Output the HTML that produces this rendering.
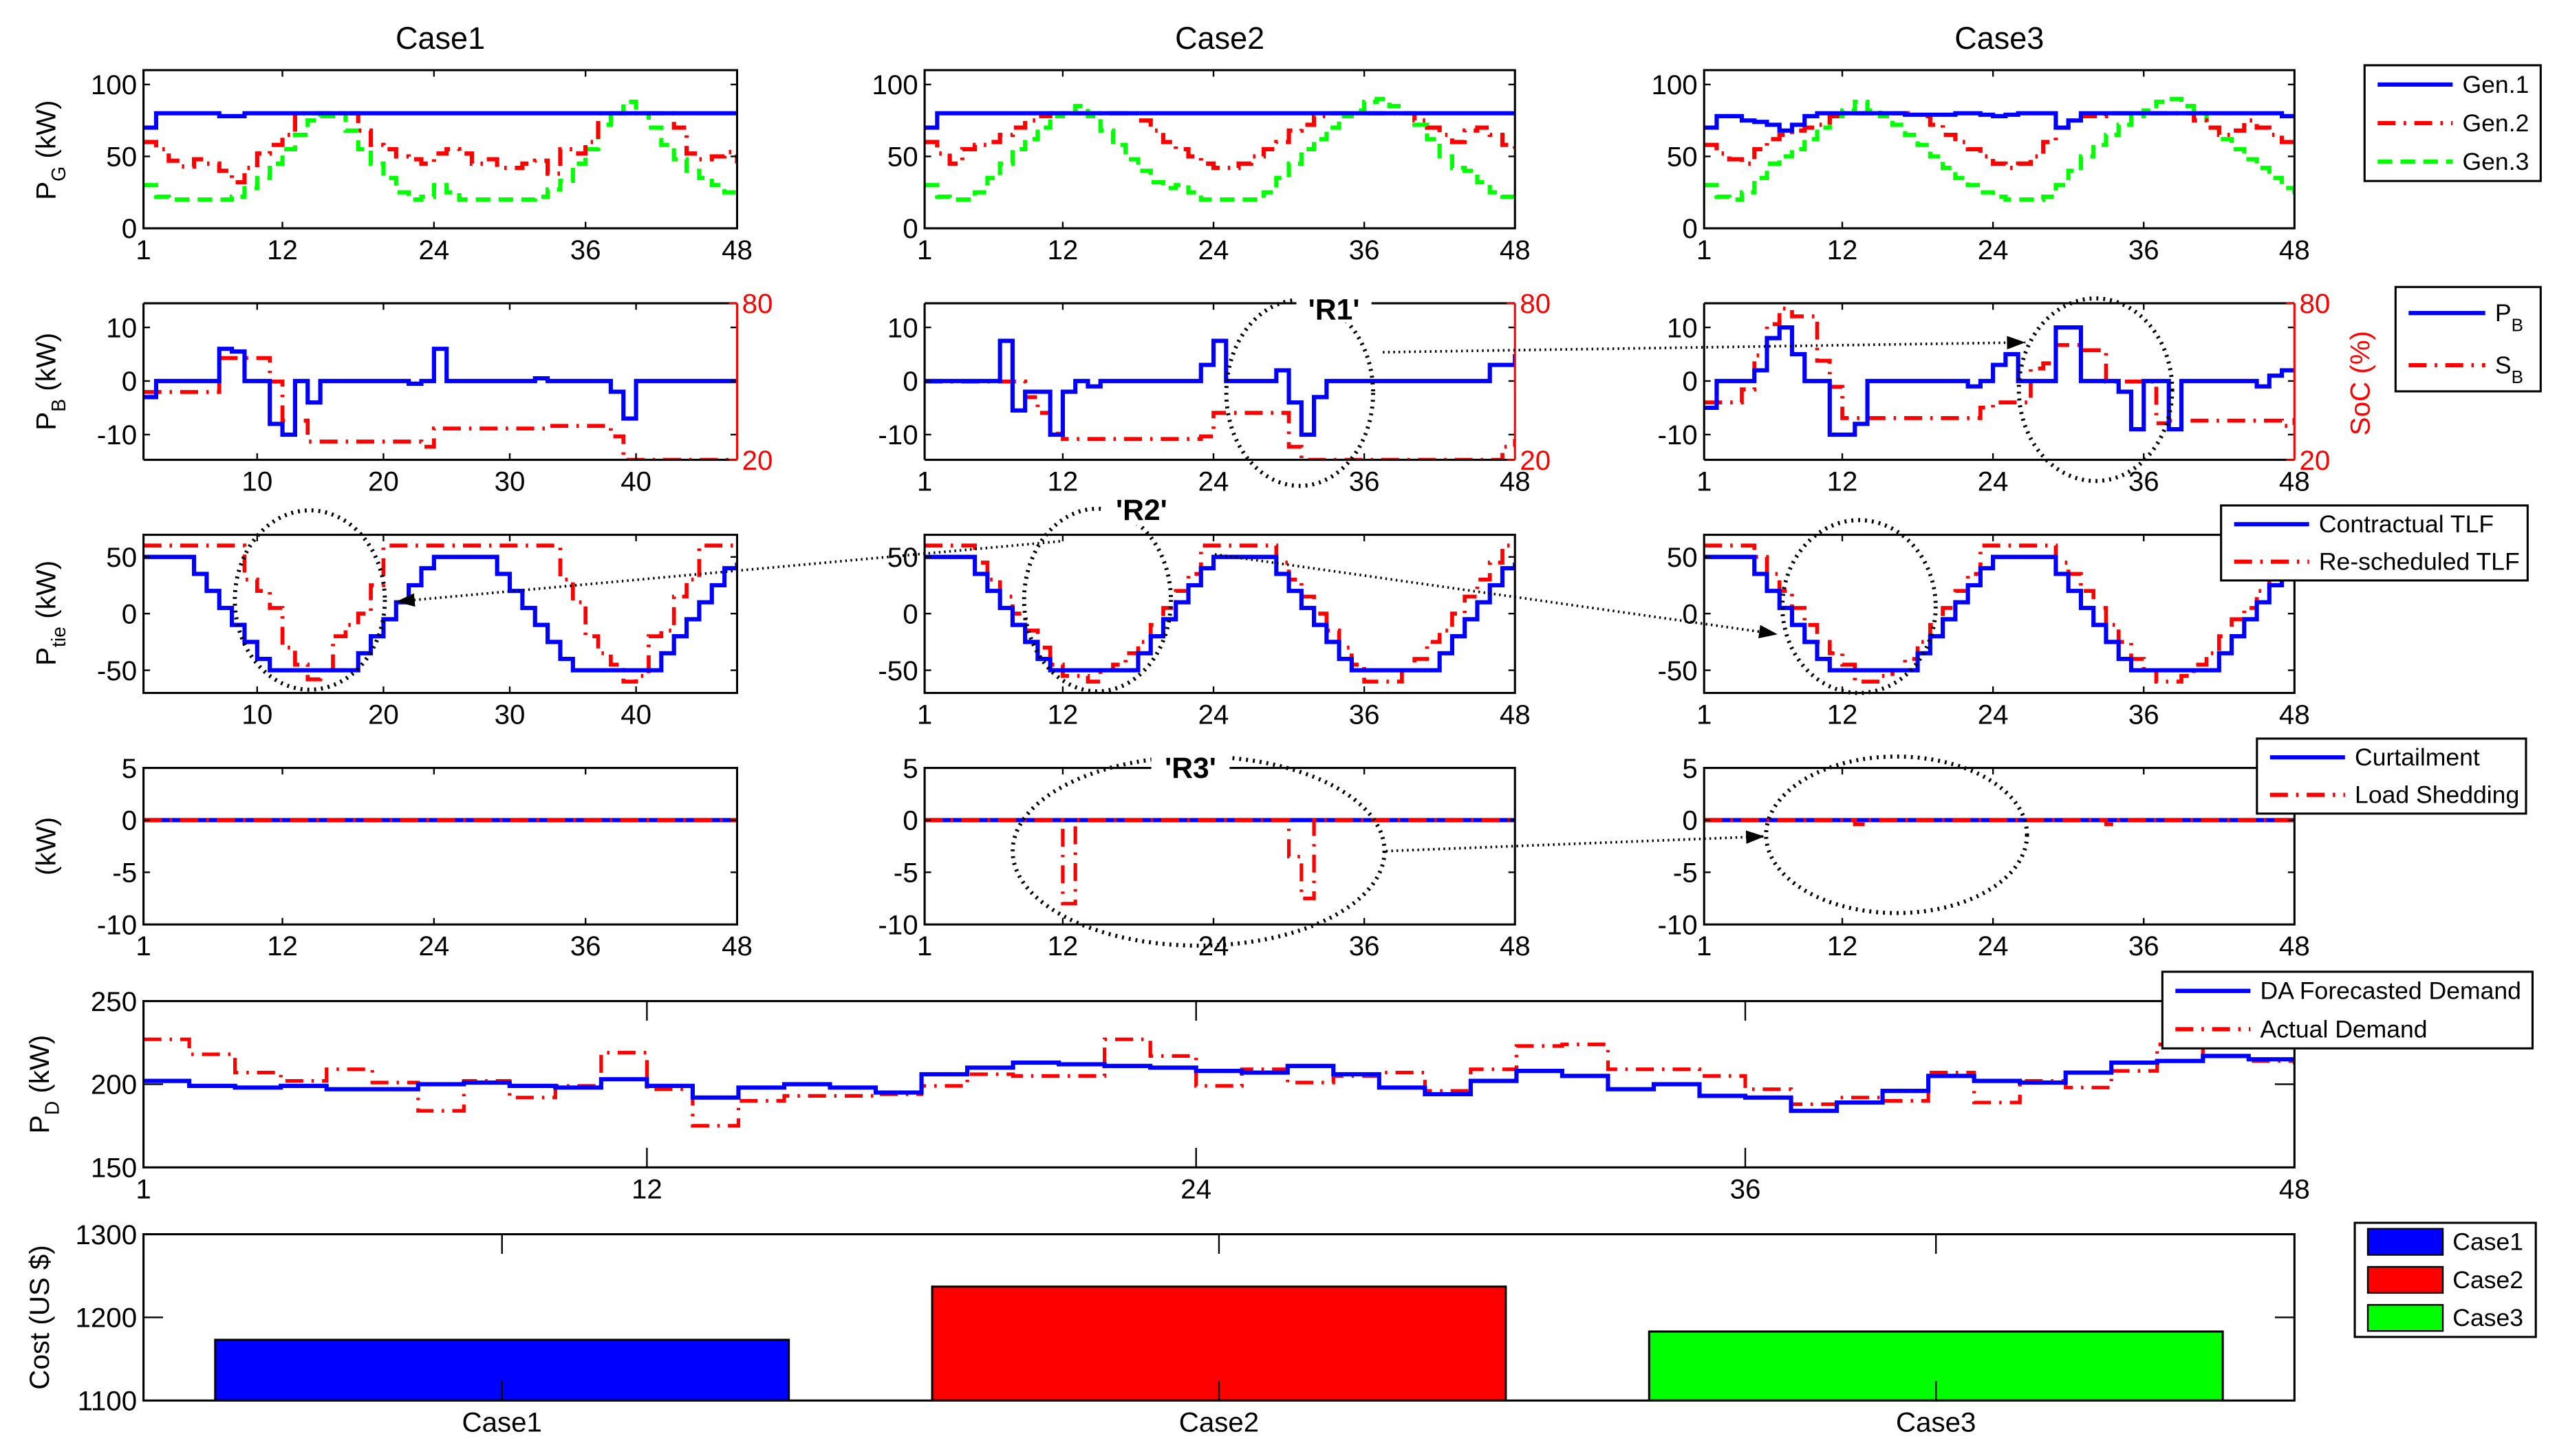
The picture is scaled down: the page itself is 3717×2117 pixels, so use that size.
<!DOCTYPE html>
<html><head><meta charset="utf-8"><style>
html,body{margin:0;padding:0;background:#fff;}
svg{display:block;font-family:"Liberation Sans",Arial,sans-serif;}
</style></head><body>
<svg id="fig" xmlns="http://www.w3.org/2000/svg" width="3717" height="2117" viewBox="0 0 1568 893"></svg>
<script>
// ---------------- DATA ----------------
const hours = Array.from({length:48},(_,i)=>i+1);
const gen1 = [
 [70,80,80,80,80,80,78,78,80,80,80,80,80,80,80,80,80,80,80,80,80,80,80,80,80,80,80,80,80,80,80,80,80,80,80,80,80,80,80,80,80,80,80,80,80,80,80,80],
 [70,80,80,80,80,80,80,80,80,80,80,80,80,80,80,80,80,80,80,80,80,80,80,80,80,80,80,80,80,80,80,80,80,80,80,80,80,80,80,80,80,80,80,80,80,80,80,80],
 [70,78,78,75,74,72,68,72,78,80,80,80,80,80,80,80,79,79,79,79,80,80,79,78,79,80,80,80,70,75,80,80,80,80,80,80,80,80,80,80,80,80,80,80,80,80,78,78]];
const gen2 = [
 [60,55,47,43,48,45,40,32,42,52,58,65,80,80,80,80,80,68,58,55,50,48,45,52,55,52,45,48,42,42,45,47,38,55,52,60,80,80,80,80,80,80,70,52,48,50,53,45],
 [60,52,45,55,58,60,65,70,75,78,80,80,80,80,80,80,80,75,68,60,55,50,45,42,42,45,50,55,60,68,72,78,80,80,80,80,80,80,80,75,70,65,60,68,70,65,58,52],
 [58,52,48,45,55,62,65,68,70,72,78,80,80,80,80,80,80,78,72,65,60,55,50,45,42,45,50,60,70,75,78,78,80,80,80,80,80,80,80,75,70,65,68,75,70,65,60,55]];
const gen3 = [
 [30,22,20,20,20,20,20,22,28,35,45,55,65,75,78,80,68,55,45,35,25,20,22,30,25,20,20,20,20,20,20,22,27,33,45,55,72,80,88,80,70,58,48,40,35,30,25,20],
 [30,22,20,20,25,35,45,55,62,70,78,80,85,78,68,58,48,40,32,28,30,25,20,20,20,20,20,25,35,45,55,62,70,78,82,88,90,85,80,72,62,50,42,40,32,25,22,22],
 [30,22,20,25,35,45,50,55,62,70,78,82,88,82,78,72,65,58,50,42,35,30,25,22,20,20,20,22,30,40,50,58,65,72,78,82,88,90,85,80,70,62,55,48,42,35,28,20]];
const pb = [
 [-3,0,0,0,0,0,6,5.5,0,0,-8,-10,0,-4,0,0,0,0,0,0,0,-0.5,0,6,0,0,0,0,0,0,0,0.5,0,0,0,0,0,-2,-7,0,0,0,0,0,0,0,0,0],
 [0,0,0,0,0,0,7.5,-5.5,-2,-2,-10,-2,0,-1,0,0,0,0,0,0,0,0,3,7.5,0,0,0,0,2,-4,-10,-3,0,0,0,0,0,0,0,0,0,0,0,0,0,3,3,5],
 [-5,0,0,0,2,8,10,5,0,0,-10,-10,-8,0,0,0,0,0,0,0,0,-1,0,3,5,0,0,0,10,10,0,0,0,-2,-9,0,0,-9,0,0,0,0,0,0,-1,1,2,2]];
const soc = [
 [46,46,46,46,46,46,59,59,59,59,50,35,35,27,27,27,27,27,27,27,27,27,25,32,32,32,32,32,32,32,32,32,33,33,33,33,33,29,20,20,20,20,20,20,20,20,20,20],
 [50,50,50,50,50,50,50,50,44,38,30,28,28,28,28,28,28,28,28,28,28,28,29,38,38,38,38,38,38,25,20,20,20,20,20,20,20,20,20,20,20,20,20,20,20,20,25,28],
 [42,42,42,47,60,72,78,75,75,58,48,36,36,36,36,36,36,36,36,36,36,36,40,42,42,42,55,57,64,64,62,62,50,50,50,50,34,35,35,35,35,35,35,35,35,35,33,36]];
const tieContract = [50,50,50,50,35,20,5,-10,-25,-40,-50,-50,-50,-50,-50,-50,-50,-35,-20,-5,10,25,40,50,50,50,50,50,35,20,5,-10,-25,-40,-50,-50,-50,-50,-50,-50,-50,-35,-20,-5,10,25,40,45];
const tieResched = [
 [60,60,60,60,60,60,60,60,30,20,5,-30,-45,-58,-50,-20,-10,0,25,60,60,60,60,60,60,60,60,60,60,60,60,60,60,30,10,-20,-35,-45,-60,-55,-20,-15,15,30,60,60,60,60],
 [60,60,60,60,45,30,15,0,-15,-30,-45,-55,-55,-60,-50,-45,-35,-25,-10,5,20,35,60,60,60,60,60,60,45,30,15,0,-15,-30,-45,-60,-60,-60,-50,-40,-25,-15,0,15,30,45,60,60],
 [60,60,60,60,50,35,20,5,-10,-25,-35,-45,-60,-60,-55,-50,-40,-25,-10,5,20,35,60,60,60,60,60,60,45,35,20,5,-10,-25,-40,-50,-60,-60,-55,-45,-35,-20,-5,5,20,35,50,50]];
const curtail = [
 new Array(48).fill(0), new Array(48).fill(0), new Array(48).fill(0)];
const loadShed = [
 new Array(48).fill(0),
 [0,0,0,0,0,0,0,0,0,0,0,-8,0,0,0,0,0,0,0,0,0,0,0,0,0,0,0,0,0,-3.5,-7.5,0,0,0,0,0,0,0,0,0,0,0,0,0,0,0,0,0],
 [0,0,0,0,0,0,0,0,0,0,0,0,-0.4,0,0,0,0,0,0,0,0,0,0,0,0,0,0,0,0,0,0,0,-0.4,0,0,0,0,0,0,0,0,0,0,0,0,0,0,0]];
const demandDA = [202,199,198,199,197,197,200,201,199,198,203,199,192,198,200,198,195,206,210,213,212,211,210,208,207,211,206,198,194,202,208,205,197,200,193,192,184,189,196,205,202,201,207,213,214,217,215,214];
const demandActual = [227,218,207,202,209,201,184,202,192,199,219,197,175,190,193,193,194,199,206,205,205,227,217,199,209,201,205,207,196,209,223,224,209,209,205,197,188,192,190,207,189,202,198,208,224,217,214,212];
const costCases = ["Case1","Case2","Case3"];
const costValues = [1173,1237,1183];
const costColors = ["#0000ff","#ff0000","#00ff00"];

// ---------------- HELPERS ----------------
const NS="http://www.w3.org/2000/svg";
const svg=document.getElementById('fig');
function mk(tag,attrs,parent){const e=document.createElementNS(NS,tag);for(const k in attrs)e.setAttribute(k,attrs[k]);(parent||svg).appendChild(e);return e;}
const BLUE="#0000ff",RED="#ff0000",GREEN="#00ff00";
const DASHDOT="11,5,1.5,5", DASHED="9,5";
let clipId=0;
function axes(name,x,y,w,h,xr,yr,xticks,yticks,opt){
  opt=opt||{};
  const g=mk('g',{});
  
  
  const sx=v=>x+(v-xr[0])/(xr[1]-xr[0])*w;
  const sy=v=>y+h-(v-yr[0])/(yr[1]-yr[0])*h;
  const id='c'+(clipId++);
  const cp=mk('clipPath',{id:id},g);mk('rect',{x:x,y:y,width:w,height:h},cp);
  const plot=mk('g',{'clip-path':'url(#'+id+')'},g);
  const tl=opt.tickLen||4;
  xticks.forEach(t=>{const X=sx(t);
    mk('line',{x1:X,y1:y+h,x2:X,y2:y+h-tl,stroke:'#000','stroke-width':1},g);
    mk('line',{x1:X,y1:y,x2:X,y2:y+tl,stroke:'#000','stroke-width':1},g);
    const lab=(opt.xlabels?opt.xlabels[xticks.indexOf(t)]:String(t));
    const tx=mk('text',{x:X,y:y+h+19,'font-size':17,'text-anchor':'middle',fill:'#000'},g);tx.textContent=lab;
    
    
  });
  yticks.forEach(t=>{const Y=sy(t);
    mk('line',{x1:x,y1:Y,x2:x+tl,y2:Y,stroke:'#000','stroke-width':1},g);
    mk('line',{x1:x+w,y1:Y,x2:x+w-tl,y2:Y,stroke:'#000','stroke-width':1},g);
    const tx=mk('text',{x:x-4,y:Y+6,'font-size':17,'text-anchor':'end',fill:'#000'},g);tx.textContent=String(t);
    
    
  });
  return {g,plot,sx,sy,x,y,w,h,frame:()=>mk('rect',{x:x,y:y,width:w,height:h,fill:'none',stroke:'#000','stroke-width':1.3},g)};
}
function stairs(ax,vals,color,dash,width,name){
  let d='M'+ax.sx(1)+','+ax.sy(vals[0]);
  for(let i=1;i<vals.length;i++){d+='H'+ax.sx(i+1)+'V'+ax.sy(vals[i]);}
  const p=mk('path',{d:d,fill:'none',stroke:color,'stroke-width':width||2.6,'stroke-dasharray':dash||'none'},ax.plot);
  
  
  return p;
}
function ylabel(x,y,main,sub,color,name){
  const t=mk('text',{transform:'translate('+x+','+y+') rotate(-90)','font-size':17,'text-anchor':'middle',fill:color||'#000'});
  
  
  const a=mk('tspan',{},t);a.textContent=main;
  if(sub){const b=mk('tspan',{dy:6,'font-size':12},t);b.textContent=sub;const c=mk('tspan',{dy:-6},t);c.textContent=' (kW)';}
  return t;
}
function legend(name,x,y,w,h,entries){
  const g=mk('g',{});
  
  
  mk('rect',{x:x,y:y,width:w,height:h,fill:'#fff',stroke:'#000','stroke-width':1.3},g);
  entries.forEach((e,i)=>{
    const yy=y+h*(i+0.5)/entries.length;
    const it=mk('g',{},g);
    
    
    if(e.patch){mk('rect',{x:x+8,y:yy-8,width:46,height:16,fill:e.color,stroke:'#000','stroke-width':1},it);}
    else mk('line',{x1:x+8,y1:yy,x2:x+8+e.len,y2:yy,stroke:e.color,'stroke-width':2.6,'stroke-dasharray':e.dash||'none'},it);
    const t=mk('text',{x:x+(e.patch?60:14+e.len),y:yy+5,'font-size':15,fill:'#000'},it);
    const a=mk('tspan',{},t);a.textContent=e.label;
    if(e.sub){const b=mk('tspan',{dy:6,'font-size':11},t);b.textContent=e.sub;}
  });
}
function ellipse(cx,cy,rx,ry){
  const e=mk('ellipse',{cx:cx,cy:cy,rx:rx,ry:ry,fill:'none',stroke:'#000','stroke-width':2.5,'stroke-dasharray':'1.2,3'});
  
  
}
function arrow(x1,y1,x2,y2){
  const l=mk('line',{x1:x1,y1:y1,x2:x2,y2:y2,stroke:'#000','stroke-width':1.6,'stroke-dasharray':'1,2.2'});
  
  
  const a=Math.atan2(y2-y1,x2-x1),L=12,s=0.35;
  mk('polygon',{points:x2+','+y2+' '+(x2-L*Math.cos(a-s))+','+(y2-L*Math.sin(a-s))+' '+(x2-L*Math.cos(a+s))+','+(y2-L*Math.sin(a+s)),fill:'#000'});
}
function label(x,y,txt,name){
  const t=mk('text',{x:x,y:y,'font-size':18,'font-weight':'bold','text-anchor':'middle',fill:'#000'});
  t.textContent=txt;
  
  
}

// ---------------- PANELS ----------------
const colX=[88,567,1045], colW=[364,362,362];
const caseTitles=["Case1","Case2","Case3"];
for(let c=0;c<3;c++){
  const t=mk('text',{x:colX[c]+colW[c]/2,y:30,'font-size':19,'text-anchor':'middle',fill:'#000'});t.textContent=caseTitles[c];
  
  
  const std=[1,12,24,36,48];
  // Row 1 generators
  const a1=axes('gen-panel-case'+(c+1),colX[c],43,colW[c],97,[1,48],[0,110],std,[0,50,100]);
  stairs(a1,gen3[c],GREEN,DASHED,2.6,'gen3-line');
  stairs(a1,gen2[c],RED,DASHDOT,2.6,'gen2-line');
  stairs(a1,gen1[c],BLUE,null,2.6,'gen1-line');
  a1.frame();
  // Row 2 battery
  const xt2=c===0?[10,20,30,40]:std;
  const a2=axes('battery-panel-case'+(c+1),colX[c],186,colW[c],96,[1,48],[-14.7,14.5],xt2,[-10,0,10]);
  const socAx={plot:a2.plot,sx:a2.sx,sy:v=>282-(v-20)/60*96};
  stairs(socAx,soc[c],RED,DASHDOT,2.4,'soc-line');
  stairs(a2,pb[c],BLUE,null,2.6,'pb-line');
  mk('line',{x1:a2.x,y1:186,x2:a2.x+a2.w,y2:186,stroke:'#000','stroke-width':1.3});
  mk('line',{x1:a2.x,y1:282,x2:a2.x+a2.w,y2:282,stroke:'#000','stroke-width':1.3});
  mk('line',{x1:a2.x,y1:186,x2:a2.x,y2:282,stroke:'#000','stroke-width':1.3});
  mk('line',{x1:a2.x+a2.w,y1:186,x2:a2.x+a2.w,y2:282,stroke:RED,'stroke-width':1.3});
  [[80,186],[20,282]].forEach(p=>{mk('line',{x1:a2.x+a2.w-5,y1:p[1],x2:a2.x+a2.w,y2:p[1],stroke:RED});
    const tt=mk('text',{x:a2.x+a2.w+3,y:p[1]+6,'font-size':17,fill:RED});tt.textContent=String(p[0]);
    
    });
  // Row 3 tie-line
  const a3=axes('tieline-panel-case'+(c+1),colX[c],328,colW[c],97,[1,48],[-70,69.5],xt2,[-50,0,50]);
  stairs(a3,tieResched[c],RED,DASHDOT,2.4,'rescheduled-tlf-line');
  stairs(a3,tieContract,BLUE,null,2.6,'contractual-tlf-line');
  a3.frame();
  // Row 4 curtailment
  const a4=axes('curtailment-panel-case'+(c+1),colX[c],471,colW[c],96,[1,48],[-10,5],std,[-10,-5,0,5]);
  stairs(a4,curtail[c],BLUE,null,2.6,'curtailment-line');
  stairs(a4,loadShed[c],RED,DASHDOT,2.2,'load-shedding-line');
  a4.frame();
}
ylabel(34,92,'P','G','#000','y-axis-title-pg');
ylabel(34,234,'P','B','#000','y-axis-title-pb');
ylabel(34,376,'P','tie','#000','y-axis-title-ptie');
(function(){const t=mk('text',{transform:'translate(34,519) rotate(-90)','font-size':17,'text-anchor':'middle'});t.textContent='(kW)';

})();
(function(){const t=mk('text',{transform:'translate(1453,235) rotate(-90)','font-size':17,'text-anchor':'middle',fill:RED});t.textContent='SoC (%)';

})();

// Row 5 demand
const a5=axes('demand-panel',88,614,1319,102,[1,48],[150,250],[1,12,24,36,48],[150,200,250],{tickLen:12});
stairs(a5,demandActual,RED,DASHDOT,2.2,'actual-demand-line');
stairs(a5,demandDA,BLUE,null,2.6,'da-demand-line');
a5.frame();
ylabel(30,665,'P','D','#000','y-axis-title-pd');

// Row 6 cost bars
const a6=axes('cost-panel',88,757,1319,102,[0.5,3.5],[1100,1300],[1,2,3],[1100,1200,1300],{tickLen:12,xlabels:costCases});
costValues.forEach((v,i)=>{
  const x0=a6.sx(i+1-0.4),x1=a6.sx(i+1+0.4);
  const r=mk('rect',{x:x0,y:a6.sy(v),width:x1-x0,height:a6.sy(1100)-a6.sy(v),fill:costColors[i],stroke:'#000','stroke-width':1.3},a6.plot);
  
  
});
a6.frame();
(function(){const t=mk('text',{transform:'translate(30,808) rotate(-90)','font-size':17,'text-anchor':'middle'});t.textContent='Cost (US $)';

})();

// ---------------- ANNOTATIONS ----------------
ellipse(190,368,46,55);
ellipse(673,368,45,56);
ellipse(1140,372,47,53);
ellipse(797,241,45,57);
ellipse(1285,239,47,56);
ellipse(735,522,114,58);
ellipse(1163,512,80,48);
mk('rect',{x:795,y:178,width:46,height:20,fill:'#fff'});
label(818,196,"'R1'",'r1-label');
mk('rect',{x:676,y:302,width:46,height:20,fill:'#fff'});
label(700,319,"'R2'",'r2-label');
mk('rect',{x:706,y:460,width:48,height:20,fill:'#fff'});
label(730,477,"'R3'",'r3-label');
arrow(848,216,1242,210);
arrow(650,332,243,369);
arrow(745,340,1090,389);
arrow(850,522,1082,513);

// ---------------- LEGENDS ----------------
legend('gen-legend',1450,40,108,71,[{label:'Gen.1',color:BLUE,len:46},{label:'Gen.2',color:RED,dash:DASHDOT,len:46},{label:'Gen.3',color:GREEN,dash:DASHED,len:46}]);
legend('battery-legend',1469,176,89,64,[{label:'P',sub:'B',color:BLUE,len:47},{label:'S',sub:'B',color:RED,dash:DASHDOT,len:47}]);
legend('tieline-legend',1362,310,188,46,[{label:'Contractual TLF',color:BLUE,len:46},{label:'Re-scheduled TLF',color:RED,dash:DASHDOT,len:46}]);
legend('curtailment-legend',1384,453,165,46,[{label:'Curtailment',color:BLUE,len:46},{label:'Load Shedding',color:RED,dash:DASHDOT,len:46}]);
legend('demand-legend',1326,596,227,47,[{label:'DA Forecasted Demand',color:BLUE,len:46},{label:'Actual Demand',color:RED,dash:DASHDOT,len:46}]);
legend('cost-legend',1444,750,111,70,[{label:'Case1',color:costColors[0],patch:true},{label:'Case2',color:costColors[1],patch:true},{label:'Case3',color:costColors[2],patch:true}]);
</script>
</body></html>
